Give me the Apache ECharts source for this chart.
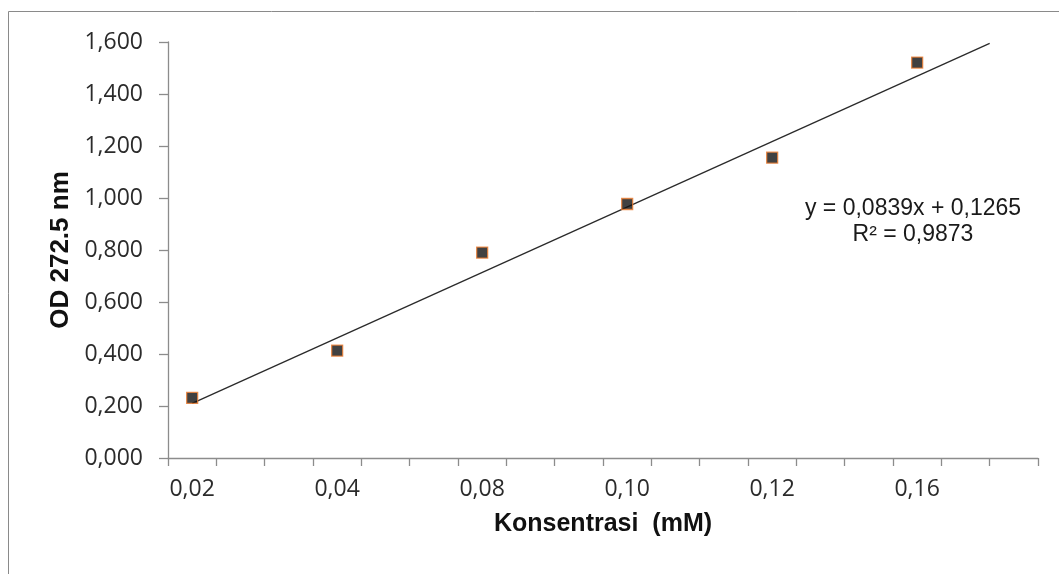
<!DOCTYPE html>
<html>
<head>
<meta charset="utf-8">
<script src="https://cdn.jsdelivr.net/npm/echarts@6/dist/echarts.min.js"></script>
<style>
  html, body { margin: 0; padding: 0; background: #ffffff; }
  #chart { width: 1059px; height: 574px; }
</style>
</head>
<body>
<div id="chart"></div>
<script>
// Concentration labels (mM), each spanning three category slots on the axis
const concLabels = ['0,02', '0,04', '0,08', '0,10', '0,12', '0,16'];
const slotsPerLabel = 3;
// Measured optical density at 272.5 nm
const odValues = [0.231, 0.413, 0.790, 0.977, 1.155, 1.521];
// Linear trendline reported on the chart (x = category slot number, 1-based)
const trendSlope = 0.0839;
const trendIntercept = 0.1265;
const trendR2 = 0.9873;
const trendFrom = 1;
const trendTo = 17.5;
// Y axis ticks
const yMin = 0, yMax = 1.6, yStep = 0.2;

const fmt = (v, d) => v.toFixed(d).replace('.', ',');

const categories = [];
concLabels.forEach(l => {
  categories.push(l);
  for (let k = 1; k < slotsPerLabel; k++) categories.push('');
});
const points = odValues.map((v, i) => [i * slotsPerLabel, v]);
const trendLine = [trendFrom, trendTo].map(x => [x, trendIntercept + trendSlope * x]);

const chart = echarts.init(document.getElementById('chart'));
const axisGrey = '#8c8c8c';
const textCol = '#2b2b2b';

chart.setOption({
  animation: false,
  backgroundColor: '#ffffff',
  grid: { left: 168, right: 21, top: 42, bottom: 116, containLabel: false },
  xAxis: [
    {
      type: 'category',
      data: categories,
      boundaryGap: true,
      axisLine: { lineStyle: { color: axisGrey, width: 1.3 } },
      axisTick: { show: true, interval: 0, length: 8, lineStyle: { color: axisGrey, width: 1.3 } },
      axisLabel: { interval: 0, margin: 20, fontFamily: 'Open Sans', fontSize: 23, color: textCol },
      splitLine: { show: false },
      name: 'Konsentrasi  (mM)',
      nameLocation: 'middle',
      nameGap: 54,
      nameTextStyle: { fontFamily: 'Liberation Sans', fontWeight: 'bold', fontSize: 25, color: '#111' }
    },
    {
      type: 'value',
      min: 0.5,
      max: categories.length + 0.5,
      show: false
    }
  ],
  yAxis: {
    type: 'value',
    min: yMin,
    max: yMax,
    interval: yStep,
    axisLine: { show: true, lineStyle: { color: axisGrey, width: 1.3 } },
    axisTick: { show: true, inside: false, length: 9, lineStyle: { color: axisGrey, width: 1.3 } },
    axisLabel: { margin: 25, fontFamily: 'Open Sans', fontSize: 23, color: textCol, formatter: v => fmt(v, 3) },
    splitLine: { show: false },
    name: 'OD 272.5 nm',
    nameLocation: 'middle',
    nameGap: 82,
    nameTextStyle: { fontFamily: 'Liberation Sans', fontWeight: 'bold', fontSize: 26, color: '#111' }
  },
  series: [
    {
      type: 'line',
      xAxisIndex: 1,
      data: trendLine,
      symbol: 'none',
      lineStyle: { color: '#2a2a2a', width: 1.3 },
      z: 2
    },
    {
      type: 'scatter',
      xAxisIndex: 0,
      data: points,
      symbol: 'rect',
      symbolSize: 11,
      itemStyle: { color: '#111111', borderColor: '#ed7d31', borderWidth: 1.3 },
      z: 3
    }
  ],
  graphic: [
    {
      type: 'rect',
      shape: { x: 8.5, y: 11.5, width: 1200, height: 800 },
      style: { fill: 'none', stroke: '#8a8a8a', lineWidth: 1 },
      silent: true
    },
    {
      type: 'text',
      style: {
        x: 913,
        y: 196,
        text: 'y = ' + fmt(trendSlope, 4) + 'x + ' + fmt(trendIntercept, 4) + '\nR² = ' + fmt(trendR2, 4),
        fontFamily: 'Liberation Sans',
        fontSize: 23,
        lineHeight: 26,
        align: 'center',
        verticalAlign: 'top',
        fill: '#1a1a1a'
      },
      silent: true
    }
  ]
});
</script>
</body>
</html>
